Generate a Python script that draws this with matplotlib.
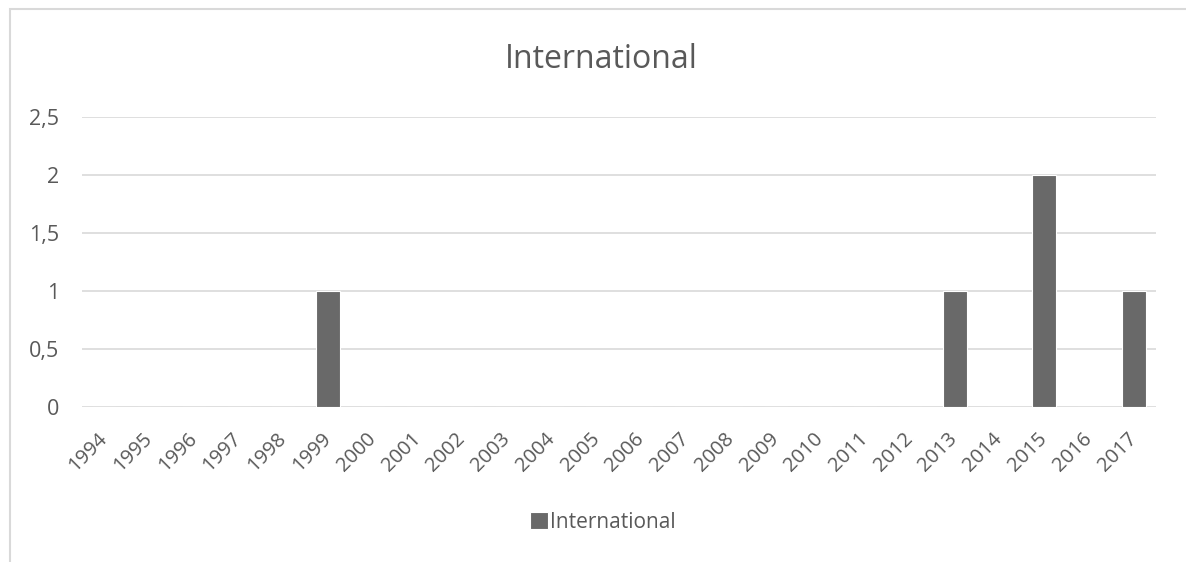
import matplotlib.pyplot as plt
from matplotlib.patches import Rectangle
from matplotlib.ticker import FuncFormatter

years = [str(y) for y in range(1994, 2018)]
international = [0, 0, 0, 0, 0, 1, 0, 0, 0, 0, 0, 0, 0, 0, 0, 0, 0, 0, 0, 1, 0, 2, 0, 1]
y_ticks = [0, 0.5, 1, 1.5, 2, 2.5]

TEXT = "#595959"
GRID = "#d9d9d9"
BAR = "#696969"

plt.rcParams["font.family"] = ["Open Sans", "DejaVu Sans"]

fig = plt.figure(figsize=(11.86, 5.62), dpi=100)
# chart-area border (only left and top visible in the crop)
fig.patches.append(Rectangle((10 / 1186, -0.1), 1.2, (562 - 8.5) / 562 + 0.1,
                             transform=fig.transFigure, fill=False,
                             edgecolor=GRID, linewidth=1.5))

ax = fig.add_axes([82 / 1186, 1 - 407 / 562, 1074 / 1186, 290 / 562])
x = range(len(years))
ax.bar(x, international, width=0.54, color=BAR, edgecolor="white",
       linewidth=0.8, label="International", zorder=3)

ax.set_xlim(-0.5, len(years) - 0.5)
ax.set_ylim(0, 2.5)
ax.set_yticks(y_ticks)
ax.yaxis.set_major_formatter(FuncFormatter(lambda v, p: f"{v:g}".replace(".", ",")))
ax.set_xticks(list(x))
ax.set_xticklabels(years, rotation=45, ha="right", va="center", rotation_mode="anchor")
ax.grid(axis="y", color=GRID, linewidth=1.2, zorder=0)
for s in ax.spines.values():
    s.set_visible(False)
ax.tick_params(axis="both", length=0, colors=TEXT, labelsize=15.5)
ax.tick_params(axis="x", labelsize=14.5, pad=21)
ax.tick_params(axis="y", pad=16.5)

fig.text(601 / 1186, 1 - 59 / 562, "International", ha="center", va="center",
         fontsize=23, color=TEXT)

leg = ax.legend(loc="center", bbox_to_anchor=(603 / 1186, 1 - 522 / 562),
                bbox_transform=fig.transFigure, frameon=False, fontsize=15,
                handlelength=0.85, handleheight=0.85, handletextpad=0.1,
                labelcolor=TEXT)

fig.savefig("out.png", dpi=100)
